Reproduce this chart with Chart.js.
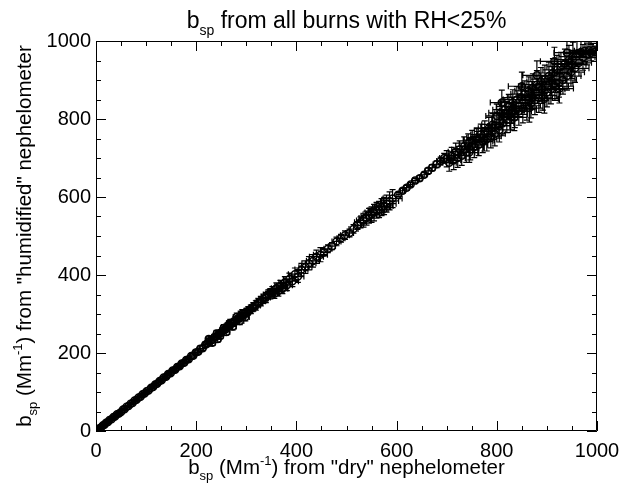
<!DOCTYPE html>
<html>
<head>
<meta charset="utf-8">
<script src="https://cdn.jsdelivr.net/npm/chart.js@4/dist/chart.umd.min.js"></script>
<style>
	body { margin: 0; background: #fff; }
	canvas { display: block; }
</style>
</head>
<body>
<canvas id="bspChart" width="622" height="485"></canvas>
<script>
// values: dry neph (x), humidified neph (y) and their error bars
const dryBsp = [
	2,5,8,11,14,17,20,24,27,31,35,38,42,46,50,54,57,61,65,69,73,77,81,85,89,93,97,
	101,105,110,114,118,122,127,131,135,140,144,149,153,158,162,167,171,176,180,185,190,194,199,
	204,208,213,218,222,227,231,236,240,245,249,253,258,262,266,270,274,278,282,286,291,295,
	300,304,309,314,319,324,329,334,339,344,348,
	225,232,241,248,255,260,268,273,281,287,292,298,243,265,
	352,356,360,364,368,372,377,381,386,392,397,403,410,418,425,433,440,448,
	455,463,471,480,489,497,506,514,522,528,534,540,545,550,555,560,565,570,575,580,586,592,
	603,612,620,628,637,646,655,663,671,680,688,695,
	700,705,710,714,718,722,726,730,735,739,743,747,751,755,760,764,768,772,776,780,784,788,792,796,
	800,804,808,812,816,820,824,828,832,836,840,844,848,852,856,860,864,868,872,876,880,884,888,892,896,
	900,904,908,912,916,920,924,928,932,936,940,944,948,952,956,960,964,968,972,976,980,984,988,992,996,
	790,830,870,910,950,760,820,890,
	745,775,805,835,865,895,925,810,850,880,915,940
];
const humidBsp = [
	1,4,8,10,15,16,21,23,28,30,36,37,43,45,49,55,56,62,64,70,72,78,80,86,88,94,96,
	102,104,111,113,119,121,128,130,137,139,146,148,155,157,164,166,173,175,182,184,192,193,201,
	203,211,212,221,224,231,233,240,243,249,252,258,261,267,269,276,278,283,286,290,294,300,
	303,309,312,318,322,329,333,339,342,350,352,
	236,226,250,244,264,254,277,268,292,282,301,292,236,272,
	357,352,366,359,372,365,381,374,390,384,402,396,414,420,430,436,447,452,
	458,467,474,486,494,502,508,518,527,535,540,546,552,555,560,566,568,574,577,583,590,596,
	606,616,624,632,642,648,657,667,675,684,692,700,
	698,688,706,694,716,700,722,706,730,714,738,722,746,728,752,734,760,742,768,748,776,756,786,762,
	808,782,816,790,824,798,832,806,842,812,850,820,856,826,864,834,872,840,880,848,888,854,896,860,902,
	868,910,876,918,884,926,892,934,900,942,910,952,920,960,930,968,944,972,958,975,966,976,970,976,972,
	778,822,860,898,940,748,814,876,
	714,746,772,804,828,852,878,842,884,912,948,970
];
const dryErr = [
	1,1,1,1,1,1,1,1,1,1,1,1,1,1,1,2,1,2,2,2,2,2,2,2,2,2,2,
	3,2,3,3,3,3,3,3,3,3,3,3,4,3,4,4,4,4,4,4,4,5,4,
	5,5,5,5,5,5,6,5,6,6,6,6,6,7,6,7,7,7,7,7,8,7,
	8,8,8,8,9,8,9,9,9,10,10,
	5,6,6,6,6,7,7,7,7,8,8,8,6,7,
	10,10,10,11,11,11,12,11,12,12,13,12,13,13,14,13,14,14,
	7,8,7,9,8,9,8,9,8,12,14,15,16,17,18,17,18,18,18,19,18,19,
	4,4,5,4,5,5,5,6,6,7,8,9,
	14,14,15,14,15,15,16,15,17,17,18,17,18,18,20,18,20,20,21,20,21,21,22,21,
	22,22,24,22,24,24,25,24,25,25,27,25,27,27,28,27,28,28,28,28,28,27,28,28,28,
	27,28,28,28,27,28,28,28,27,28,28,28,27,28,28,25,25,22,24,21,20,17,17,14,11,
	21,25,28,28,28,20,24,28,
	17,20,22,25,27,28,28,23,27,28,28,26
];
const humidErr = [
	1,1,1,1,1,1,1,1,1,1,2,1,2,1,2,2,2,2,2,2,3,2,3,2,3,3,3,
	3,3,3,4,3,4,4,4,4,4,4,5,5,5,5,5,5,6,5,6,6,6,6,
	6,7,6,7,7,7,7,8,7,8,8,8,9,8,9,9,9,10,9,10,10,10,
	11,10,11,11,12,11,12,12,13,12,13,
	7,7,8,8,9,8,9,9,10,9,10,10,8,9,
	13,12,14,13,14,13,15,14,15,14,16,15,16,16,17,16,17,18,
	9,10,9,11,10,11,10,11,10,14,17,18,19,20,21,20,21,22,22,22,23,23,
	5,6,6,5,6,7,6,7,8,9,10,12,
	21,22,21,24,22,24,22,25,24,25,24,27,25,27,25,28,27,28,27,30,28,30,28,31,
	30,31,30,33,31,33,31,34,33,34,33,36,34,36,34,37,36,37,36,37,36,37,36,37,36,
	37,36,37,37,36,37,36,37,36,37,36,37,36,37,36,33,34,30,33,27,27,22,21,18,15,
	30,33,36,37,36,27,31,36,
	25,28,31,34,36,37,37,32,36,37,36,34
];
const xTicks = [0, 200, 400, 600, 800, 1000];
const yTicks = [0, 200, 400, 600, 800, 1000];

const FONT = '"Liberation Sans", Arial, Helvetica, sans-serif';

// text with sub/superscripts, drawn centred on cx at baseline by
function drawRich(ctx, parts, cx, by, size) {
	const big = size + 'px ' + FONT;
	const small = Math.round(size * 0.62) + 'px ' + FONT;
	let w = 0;
	parts.forEach(p => { ctx.font = p[1] ? small : big; w += ctx.measureText(p[0]).width; });
	let x = cx - w / 2;
	parts.forEach(p => {
		ctx.font = p[1] ? small : big;
		let dy = 0;
		if (p[1] == 'sub') dy = size * 0.3;
		if (p[1] == 'sup') dy = -size * 0.42;
		ctx.fillText(p[0], x, by + dy);
		x += ctx.measureText(p[0]).width;
	});
}

const errorBars = {
	id: 'errorBars',
	beforeDatasetsDraw(chart) {
		const ctx = chart.ctx, xs = chart.scales.x, ys = chart.scales.y, a = chart.chartArea;
		ctx.save();
		ctx.beginPath();
		ctx.rect(a.left, a.top, a.right - a.left, a.bottom - a.top);
		ctx.clip();
		ctx.strokeStyle = '#000';
		ctx.lineWidth = 1.2;
		ctx.beginPath();
		for (let i = 0; i < dryBsp.length; i++) {
			const px = xs.getPixelForValue(dryBsp[i]);
			const py = ys.getPixelForValue(humidBsp[i]);
			const x0 = xs.getPixelForValue(dryBsp[i] - dryErr[i]);
			const x1 = xs.getPixelForValue(dryBsp[i] + dryErr[i]);
			const y0 = ys.getPixelForValue(humidBsp[i] - humidErr[i]);
			const y1 = ys.getPixelForValue(humidBsp[i] + humidErr[i]);
			ctx.moveTo(x0, py); ctx.lineTo(x1, py);
			ctx.moveTo(x0, py - 3); ctx.lineTo(x0, py + 3);
			ctx.moveTo(x1, py - 3); ctx.lineTo(x1, py + 3);
			ctx.moveTo(px, y0); ctx.lineTo(px, y1);
			ctx.moveTo(px - 3, y0); ctx.lineTo(px + 3, y0);
			ctx.moveTo(px - 3, y1); ctx.lineTo(px + 3, y1);
		}
		ctx.stroke();
		ctx.restore();
	}
};

// IDL style box with inward major and minor ticks on all four sides
const boxAxes = {
	id: 'boxAxes',
	afterDraw(chart) {
		const ctx = chart.ctx, xs = chart.scales.x, ys = chart.scales.y, a = chart.chartArea;
		ctx.save();
		ctx.strokeStyle = '#000';
		ctx.lineWidth = 1;
		ctx.beginPath();
		ctx.rect(a.left + 0.5, a.top + 0.5, a.right - a.left - 1, a.bottom - a.top - 1);
		for (let v = 0; v <= 1000; v += 50) {
			const len = (v % 200 == 0) ? 10 : 5;
			const px = Math.round(xs.getPixelForValue(v)) + 0.5;
			ctx.moveTo(px, a.bottom); ctx.lineTo(px, a.bottom - len);
			ctx.moveTo(px, a.top); ctx.lineTo(px, a.top + len);
			const py = Math.round(ys.getPixelForValue(v)) + 0.5;
			ctx.moveTo(a.left, py); ctx.lineTo(a.left + len, py);
			ctx.moveTo(a.right, py); ctx.lineTo(a.right - len, py);
		}
		ctx.stroke();

		ctx.fillStyle = '#000';
		ctx.textAlign = 'left';
		ctx.textBaseline = 'alphabetic';
		const cx = (a.left + a.right) / 2;
		drawRich(ctx, [['b'], ['sp', 'sub'], [' from all burns with RH<25%']], cx, 28, 23);
		drawRich(ctx, [['b'], ['sp', 'sub'], [' (Mm'], ['-1', 'sup'], [') from "dry" nephelometer']], cx, 474, 20.5);
		ctx.translate(31, (a.top + a.bottom) / 2);
		ctx.rotate(-Math.PI / 2);
		drawRich(ctx, [['b'], ['sp', 'sub'], [' (Mm'], ['-1', 'sup'], [') from "humidified" nephelometer']], 0, 0, 20.5);
		ctx.restore();
	}
};

let points = dryBsp.map((v, i) => ({ x: v, y: humidBsp[i] }));

let config = {
	type: 'scatter',
	data: {
		datasets: [{
			data: points,
			pointStyle: 'circle',
			pointRadius: 3.5,
			borderWidth: 1.5,
			borderColor: '#000',
			backgroundColor: 'rgba(0,0,0,0)'
		}]
	},
	options: {
		responsive: false,
		animation: false,
		layout: { padding: { top: 41, right: 25, left: 0, bottom: 0 } },
		plugins: {
			legend: { display: false },
			tooltip: { enabled: false }
		},
		scales: {
			x: {
				type: 'linear',
				min: 0,
				max: 1000,
				afterBuildTicks: s => { s.ticks = xTicks.map(v => ({ value: v })); },
				afterFit: s => { s.height = 54; s.paddingLeft = 0; s.paddingRight = 0; },
				grid: { display: false, drawTicks: false },
				border: { display: false },
				ticks: { color: '#000', font: { family: FONT, size: 20 }, padding: 8, maxRotation: 0, autoSkip: false,
					callback: v => String(v) }
			},
			y: {
				type: 'linear',
				min: 0,
				max: 1000,
				afterBuildTicks: s => { s.ticks = yTicks.map(v => ({ value: v })); },
				afterFit: s => { s.width = 96; s.paddingTop = 0; s.paddingBottom = 0; },
				grid: { display: false, drawTicks: false },
				border: { display: false },
				ticks: { color: '#000', font: { family: FONT, size: 20 }, padding: 5, autoSkip: false,
					callback: v => String(v) }
			}
		}
	},
	plugins: [errorBars, boxAxes]
};

new Chart(document.getElementById('bspChart'), config);
</script>
</body>
</html>
